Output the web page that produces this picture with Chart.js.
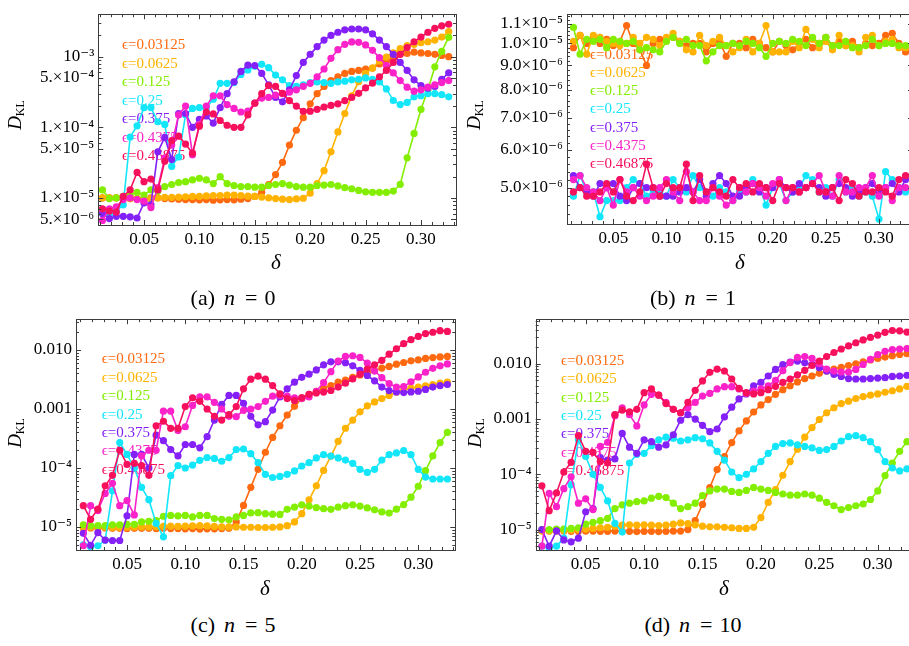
<!DOCTYPE html>
<html>
<head>
<meta charset="utf-8">
<script src="https://cdn.jsdelivr.net/npm/chart.js@4.4.1/dist/chart.umd.min.js"></script>
<style>
  body { margin: 0; width: 909px; height: 646px; overflow: hidden; background: #fff; position: relative;
         font-family: "Liberation Serif", "DejaVu Serif", serif; }
  canvas { position: absolute; }
  .lbl { position: absolute; white-space: nowrap; color: #000; transform: translate(-50%, -50%); }
  .cap { font-size: 22px; }
  .cap i { margin: 0 10px 0 9px; }
  .cap span { margin-left: 7px; }
  .dx { font-size: 21px; font-style: italic; }
  .dy { font-size: 19px; transform: translate(-50%, -50%) rotate(-90deg); }
  .dy sub { font-size: 12px; font-style: normal; vertical-align: -3px; }
</style>
</head>
<body>
<canvas id="cA" width="460" height="250" style="left:0;top:0"></canvas>
<canvas id="cB" width="460" height="250" style="left:460px;top:0"></canvas>
<canvas id="cC" width="460" height="270" style="left:0;top:305px"></canvas>
<canvas id="cD" width="460" height="270" style="left:460px;top:305px"></canvas>

<div class="lbl dy" style="left:16px;top:115px"><i>D</i><sub>KL</sub></div>
<div class="lbl dy" style="left:475px;top:115px"><i>D</i><sub>KL</sub></div>
<div class="lbl dy" style="left:16px;top:433px"><i>D</i><sub>KL</sub></div>
<div class="lbl dy" style="left:476px;top:433px"><i>D</i><sub>KL</sub></div>

<div class="lbl dx" style="left:276px;top:262px">δ</div>
<div class="lbl dx" style="left:740px;top:262px">δ</div>
<div class="lbl dx" style="left:265px;top:588px">δ</div>
<div class="lbl dx" style="left:724px;top:588px">δ</div>

<div class="lbl cap" style="left:233px;top:298px">(a)<i>n</i>=<span>0</span></div>
<div class="lbl cap" style="left:693px;top:298px">(b)<i>n</i>=<span>1</span></div>
<div class="lbl cap" style="left:233px;top:625px">(c)<i>n</i>=<span>5</span></div>
<div class="lbl cap" style="left:693px;top:625px">(d)<i>n</i>=<span>10</span></div>

<script>
// delta grid
const delta = [0.0125, 0.01875, 0.025, 0.03125, 0.0375, 0.04375, 0.05, 0.05625, 0.0625, 0.06875,
  0.075, 0.08125, 0.0875, 0.09375, 0.1, 0.10625, 0.1125, 0.11875, 0.125, 0.13125,
  0.1375, 0.14375, 0.15, 0.15625, 0.1625, 0.16875, 0.175, 0.18125, 0.1875, 0.19375,
  0.2, 0.20625, 0.2125, 0.21875, 0.225, 0.23125, 0.2375, 0.24375, 0.25, 0.25625,
  0.2625, 0.26875, 0.275, 0.28125, 0.2875, 0.29375, 0.3, 0.30625, 0.3125, 0.31875, 0.325];

const eps = ['0.03125', '0.0625', '0.125', '0.25', '0.375', '0.4375', '0.46875'];
const colors = ['#ff6a10', '#ffb300', '#84ee00', '#14e6fa', '#8420f8', '#fa22c8', '#f7105c'];

// (a) n = 0
const n0_e1 = [1.0e-5,1.0e-5,1.0e-5,1.0e-5,9.8e-6,9.8e-6,9.7e-6,1.0e-5,1.0e-5,9.8e-6,
  9.7e-6,9.6e-6,9.5e-6,9.5e-6,9.4e-6,9.5e-6,9.3e-6,9.4e-6,9.5e-6,9.4e-6,
  9.6e-6,9.8e-6,1.05e-5,1.2e-5,1.55e-5,2.14e-5,3.2e-5,5.6e-5,9.1e-5,1.37e-4,
  2.15e-4,3.0e-4,3.8e-4,4.6e-4,5.2e-4,5.8e-4,6.2e-4,6.4e-4,6.7e-4,6.9e-4,
  7.9e-4,8.7e-4,9.7e-4,1.08e-3,1.11e-3,1.16e-3,1.13e-3,1.11e-3,1.08e-3,1.04e-3,1.0e-3];
const n0_e2 = [1.0e-5,1.0e-5,1.0e-5,9.8e-6,9.8e-6,9.8e-6,9.7e-6,9.7e-6,1.0e-5,1.02e-5,
  1.02e-5,1.03e-5,1.04e-5,1.05e-5,1.05e-5,1.07e-5,1.08e-5,1.08e-5,1.1e-5,1.1e-5,
  1.08e-5,1.06e-5,1.05e-5,1.03e-5,1.0e-5,9.8e-6,9.6e-6,9.5e-6,9.7e-6,9.9e-6,
  1.17e-5,1.6e-5,2.43e-5,4.5e-5,8.6e-5,1.57e-4,2.79e-4,4.45e-4,5.8e-4,6.9e-4,
  8.7e-4,9.9e-4,1.13e-3,1.3e-3,1.44e-3,1.5e-3,1.58e-3,1.63e-3,1.72e-3,1.9e-3,2.27e-3];
const n0_e3 = [1.3e-5,9.8e-6,1.0e-5,1.05e-5,1.1e-5,1.2e-5,1.1e-5,1.3e-5,1.25e-5,1.45e-5,
  1.55e-5,1.65e-5,1.7e-5,1.8e-5,1.9e-5,1.8e-5,1.6e-5,2.0e-5,1.6e-5,1.5e-5,
  1.45e-5,1.45e-5,1.42e-5,1.42e-5,1.5e-5,1.55e-5,1.6e-5,1.52e-5,1.45e-5,1.42e-5,
  1.42e-5,1.5e-5,1.52e-5,1.55e-5,1.48e-5,1.4e-5,1.35e-5,1.28e-5,1.22e-5,1.2e-5,
  1.2e-5,1.2e-5,1.25e-5,1.56e-5,3.7e-5,8.2e-5,1.8e-4,3.4e-4,7.2e-4,1.19e-3,1.88e-3];
const n0_e4 = [6.0e-6,5.8e-6,6.5e-6,8.0e-6,7.3e-5,1.05e-4,1.9e-4,1.9e-4,1.2e-4,1.1e-4,
  2.8e-5,3.8e-5,1.5e-4,1.85e-4,1.9e-4,1.9e-4,2.5e-4,4.2e-4,4.2e-4,4.3e-4,
  5.6e-4,6.5e-4,7.3e-4,7.8e-4,7.0e-4,5.5e-4,4.7e-4,3.9e-4,3.8e-4,4.0e-4,
  4.3e-4,4.4e-4,4.3e-4,4.2e-4,4.4e-4,4.5e-4,4.7e-4,4.8e-4,5.0e-4,4.8e-4,
  4.4e-4,3.5e-4,2.4e-4,2.1e-4,2.25e-4,2.7e-4,2.8e-4,3.0e-4,3.0e-4,2.9e-4,2.7e-4];
const n0_e5 = [6.0e-6,5.1e-6,5.5e-6,5.5e-6,5.4e-6,5.2e-6,8.5e-6,8.0e-6,4.5e-5,7.2e-5,
  3.5e-5,1.57e-4,1.57e-4,1.0e-4,1.3e-4,1.45e-4,1.15e-4,1.9e-4,3.0e-4,4.4e-4,
  6.2e-4,7.6e-4,7.5e-4,5.8e-4,4.0e-4,2.65e-4,2.3e-4,3.4e-4,5.4e-4,8.3e-4,
  1.08e-3,1.39e-3,1.72e-3,2.0e-3,2.22e-3,2.4e-3,2.47e-3,2.47e-3,2.4e-3,2.1e-3,
  1.72e-3,1.39e-3,1.08e-3,8.3e-4,6.4e-4,4.7e-4,3.9e-4,3.6e-4,3.8e-4,4.8e-4,5.9e-4];
const n0_e6 = [4.8e-6,7.0e-6,7.5e-6,9.5e-6,1.0e-5,9.5e-6,9.0e-6,7.3e-6,1.4e-5,3.7e-5,
  5.6e-5,1.5e-4,2.0e-4,4.1e-5,1.1e-4,2.0e-4,2.8e-4,2.8e-4,2.1e-4,1.85e-4,
  1.65e-4,1.7e-4,2.2e-4,2.6e-4,2.65e-4,2.85e-4,3.0e-4,3.15e-4,3.4e-4,3.8e-4,
  4.2e-4,5.2e-4,6.7e-4,9.5e-4,1.26e-3,1.5e-3,1.62e-3,1.6e-3,1.47e-3,1.23e-3,
  9.7e-4,7.5e-4,5.9e-4,4.6e-4,3.7e-4,3.25e-4,3.4e-4,3.7e-4,4.0e-4,4.3e-4,4.6e-4];
const n0_e7 = [7.0e-6,6.5e-6,6.3e-6,1.05e-5,1.3e-5,2.3e-5,1.7e-5,1.85e-5,1.3e-5,3.3e-5,
  6.5e-5,7.5e-5,5.8e-5,4.3e-5,1.04e-4,1.65e-4,1.55e-4,1.25e-4,1.07e-4,1.0e-4,
  1.0e-4,1.5e-4,2.2e-4,3.0e-4,3.9e-4,3.8e-4,3.03e-4,2.39e-4,2.0e-4,1.69e-4,
  1.69e-4,1.8e-4,1.94e-4,2.04e-4,2.15e-4,2.39e-4,2.65e-4,3.03e-4,3.62e-4,4.22e-4,
  5.2e-4,6.4e-4,8.3e-4,1.08e-3,1.35e-3,1.63e-3,1.9e-3,2.22e-3,2.52e-3,2.74e-3,2.88e-3];

// (b) n = 1
const n1_e1 = [9.8e-6,1.04e-5,1.0e-5,1.03e-5,1.0e-5,1.02e-5,9.9e-6,1.01e-5,1.09e-5,1.0e-5,
  9.7e-6,9.0e-6,1.0e-5,1.02e-5,1.02e-5,1.03e-5,1.01e-5,9.9e-6,1.0e-5,1.0e-5,
  9.6e-6,1.0e-5,1.01e-5,9.4e-6,1.0e-5,1.0e-5,9.8e-6,1.02e-5,1.0e-5,9.8e-6,
  9.6e-6,1.01e-5,9.9e-6,9.7e-6,1.0e-5,1.02e-5,9.8e-6,1.0e-5,1.03e-5,9.9e-6,
  1.01e-5,9.9e-6,1.01e-5,9.8e-6,1.0e-5,9.9e-6,1.0e-5,1.04e-5,1.05e-5,1.0e-5,9.6e-6];
const n1_e2 = [1.01e-5,1.04e-5,9.5e-6,1.04e-5,1.03e-5,1.01e-5,1.0e-5,9.9e-6,1.0e-5,1.03e-5,
  1.0e-5,1.03e-5,1.02e-5,9.9e-6,1.03e-5,1.05e-5,1.01e-5,9.7e-6,9.6e-6,1.04e-5,
  9.9e-6,1.01e-5,1.03e-5,9.9e-6,9.6e-6,9.8e-6,1.02e-5,9.6e-6,1.0e-5,1.09e-5,
  9.6e-6,9.6e-6,9.6e-6,1.01e-5,9.8e-6,1.07e-5,1.02e-5,9.8e-6,1.01e-5,9.7e-6,
  1.04e-5,9.9e-6,9.9e-6,9.6e-6,1.03e-5,1.04e-5,9.9e-6,1.01e-5,1.02e-5,9.8e-6,9.8e-6];
const n1_e3 = [1.08e-5,9.5e-6,1.02e-5,1.01e-5,1.02e-5,9.8e-6,1.02e-5,1.01e-5,1.0e-5,1.01e-5,
  9.7e-6,9.8e-6,9.7e-6,9.6e-6,1.01e-5,1.03e-5,1.0e-5,1.02e-5,9.9e-6,9.9e-6,
  9.2e-6,9.6e-6,9.9e-6,9.9e-6,1.0e-5,9.9e-6,1.01e-5,1.0e-5,9.8e-6,9.4e-6,
  1.0e-5,1.01e-5,1.0e-5,1.02e-5,1.01e-5,9.9e-6,1.03e-5,1.0e-5,1.03e-5,9.9e-6,
  9.9e-6,1.01e-5,9.8e-6,9.8e-6,9.9e-6,1.02e-5,9.9e-6,1.0e-5,1.0e-5,9.9e-6,9.9e-6];
const n1_e4 = [4.8e-6,5.3e-6,4.9e-6,4.9e-6,4.35e-6,4.7e-6,4.7e-6,4.7e-6,5.0e-6,5.2e-6,
  5.1e-6,4.8e-6,4.9e-6,4.9e-6,4.8e-6,5.2e-6,5.0e-6,4.9e-6,5.3e-6,5.0e-6,
  4.9e-6,4.8e-6,5.0e-6,4.9e-6,4.7e-6,4.9e-6,4.9e-6,5.2e-6,5.0e-6,4.6e-6,
  5.0e-6,5.1e-6,4.7e-6,4.9e-6,5.0e-6,5.3e-6,5.2e-6,4.9e-6,5.0e-6,4.8e-6,
  5.2e-6,4.9e-6,5.0e-6,4.8e-6,4.9e-6,4.8e-6,4.3e-6,5.4e-6,5.2e-6,5.0e-6,4.9e-6];
const n1_e5 = [5.3e-6,5.0e-6,4.9e-6,4.8e-6,5.1e-6,5.0e-6,5.1e-6,4.8e-6,4.7e-6,5.0e-6,
  5.1e-6,5.0e-6,5.0e-6,4.8e-6,4.8e-6,4.8e-6,4.9e-6,5.0e-6,4.9e-6,5.2e-6,
  4.8e-6,5.1e-6,5.3e-6,5.1e-6,4.8e-6,4.8e-6,5.0e-6,5.1e-6,4.9e-6,5.0e-6,
  5.0e-6,5.2e-6,5.0e-6,4.9e-6,5.1e-6,5.0e-6,5.1e-6,5.0e-6,4.8e-6,5.0e-6,
  5.1e-6,5.0e-6,4.8e-6,4.9e-6,5.0e-6,5.1e-6,4.9e-6,5.0e-6,5.1e-6,4.9e-6,5.2e-6];
const n1_e6 = [5.2e-6,5.3e-6,5.0e-6,4.9e-6,4.7e-6,5.0e-6,4.6e-6,5.2e-6,4.9e-6,5.0e-6,
  4.8e-6,4.7e-6,4.8e-6,5.0e-6,5.2e-6,4.9e-6,4.7e-6,5.4e-6,4.9e-6,4.7e-6,
  4.7e-6,5.0e-6,4.8e-6,4.6e-6,4.7e-6,5.0e-6,4.9e-6,5.1e-6,5.0e-6,4.8e-6,
  5.1e-6,5.2e-6,4.7e-6,5.0e-6,4.9e-6,5.0e-6,5.1e-6,5.3e-6,4.9e-6,4.8e-6,
  5.3e-6,4.9e-6,4.9e-6,5.0e-6,5.0e-6,5.3e-6,4.8e-6,5.0e-6,4.7e-6,5.0e-6,5.0e-6];
const n1_e7 = [4.9e-6,5.0e-6,4.8e-6,4.8e-6,4.9e-6,5.1e-6,4.9e-6,5.2e-6,4.8e-6,4.7e-6,
  4.9e-6,5.6e-6,5.0e-6,4.8e-6,5.1e-6,5.0e-6,5.0e-6,5.6e-6,4.7e-6,5.3e-6,
  4.9e-6,5.0e-6,4.9e-6,4.8e-6,5.2e-6,5.0e-6,5.1e-6,4.9e-6,5.1e-6,5.0e-6,
  4.7e-6,5.1e-6,5.0e-6,5.0e-6,4.9e-6,5.0e-6,5.1e-6,4.9e-6,4.9e-6,5.0e-6,
  4.7e-6,5.2e-6,5.1e-6,4.8e-6,4.9e-6,4.9e-6,5.0e-6,4.9e-6,4.8e-6,5.2e-6,5.3e-6];

// (c) n = 5
const n5_e1 = [9.6e-6,9.6e-6,9.5e-6,9.6e-6,9.5e-6,9.5e-6,9.4e-6,9.5e-6,9.5e-6,9.5e-6,
  9.4e-6,9.5e-6,9.4e-6,9.4e-6,9.3e-6,9.4e-6,9.2e-6,9.3e-6,9.3e-6,9.4e-6,
  9.5e-6,1.22e-5,2.32e-5,4.7e-5,9.5e-5,1.85e-4,3.3e-4,5.2e-4,7.9e-4,1.11e-3,
  1.5e-3,1.77e-3,2.0e-3,2.26e-3,2.5e-3,2.85e-3,3.1e-3,3.45e-3,3.77e-3,4.1e-3,
  4.45e-3,4.94e-3,5.27e-3,5.76e-3,6.14e-3,6.55e-3,6.8e-3,7.2e-3,7.45e-3,7.65e-3,7.8e-3];
const n5_e2 = [1.0e-5,1.0e-5,1.0e-5,1.0e-5,9.8e-6,9.8e-6,9.9e-6,1.0e-5,1.0e-5,1.0e-5,
  1.01e-5,1.02e-5,1.03e-5,1.02e-5,1.03e-5,1.04e-5,1.05e-5,1.04e-5,1.02e-5,1.0e-5,
  1.0e-5,1.0e-5,9.9e-6,9.9e-6,9.8e-6,9.8e-6,9.9e-6,1.0e-5,1.05e-5,1.22e-5,
  1.68e-5,2.89e-5,5.0e-5,9.1e-5,1.59e-4,2.83e-4,4.72e-4,6.5e-4,8.97e-4,1.13e-3,
  1.32e-3,1.5e-3,1.7e-3,1.94e-3,2.12e-3,2.26e-3,2.35e-3,2.47e-3,2.6e-3,2.74e-3,2.85e-3];
const n5_e3 = [1.09e-5,1.05e-5,1.05e-5,1.05e-5,1.09e-5,1.09e-5,1.11e-5,1.11e-5,1.22e-5,1.25e-5,
  1.28e-5,1.52e-5,1.57e-5,1.54e-5,1.57e-5,1.48e-5,1.57e-5,1.57e-5,1.39e-5,1.35e-5,
  1.32e-5,1.48e-5,1.57e-5,1.73e-5,1.75e-5,1.68e-5,1.65e-5,1.63e-5,1.99e-5,2.17e-5,
  2.38e-5,2.26e-5,2.12e-5,2.04e-5,1.99e-5,2.17e-5,2.3e-5,2.38e-5,2.26e-5,2.1e-5,
  1.95e-5,1.8e-5,1.72e-5,2.0e-5,2.4e-5,3.2e-5,4.9e-5,9.0e-5,1.6e-4,2.7e-4,4.0e-4];
const n5_e4 = [5.0e-6,4.6e-6,4.8e-6,6.0e-6,4.1e-5,2.7e-4,1.7e-4,1.0e-4,4.7e-5,2.9e-5,
  1.15e-5,6.8e-6,7.4e-5,1.1e-4,1.0e-4,1.12e-4,1.35e-4,1.5e-4,1.45e-4,1.3e-4,
  1.5e-4,2.05e-4,2.1e-4,1.75e-4,1.23e-4,7.8e-5,6.9e-5,7.2e-5,7.8e-5,8.9e-5,
  1.08e-4,1.23e-4,1.48e-4,1.68e-4,1.59e-4,1.48e-4,1.36e-4,1.2e-4,9.5e-5,8.4e-5,
  9.5e-5,1.36e-4,1.68e-4,1.8e-4,1.98e-4,1.68e-4,9.5e-5,7.0e-5,6.5e-5,6.5e-5,6.5e-5];
const n5_e5 = [7.8e-6,4.9e-6,8.0e-6,6.0e-6,5.9e-6,5.9e-6,1.55e-5,1.7e-4,1.7e-4,1.0e-4,
  3.6e-4,2.9e-4,2.05e-4,1.6e-4,2.5e-4,2.5e-4,2.2e-4,3.4e-4,6.5e-4,1.2e-3,
  1.7e-3,1.7e-3,1.25e-3,7.5e-4,5.4e-4,6.1e-4,9.6e-4,1.6e-3,2.2e-3,2.85e-3,
  3.45e-3,3.9e-3,4.6e-3,5.6e-3,6.3e-3,6.3e-3,6.1e-3,5.4e-3,4.5e-3,3.7e-3,
  3.0e-3,2.35e-3,2.05e-3,1.95e-3,1.9e-3,1.95e-3,2.0e-3,2.15e-3,2.35e-3,2.5e-3,2.6e-3];
const n5_e6 = [4.8e-6,2.3e-5,1.9e-5,3.7e-5,5.5e-5,2.3e-5,2.8e-5,1.6e-5,1.6e-4,2.0e-4,
  2.0e-4,9.2e-4,9.2e-4,4.3e-4,5.0e-4,1.15e-3,1.6e-3,1.6e-3,1.3e-3,1.0e-3,
  7.5e-4,7.4e-4,9.5e-4,1.0e-3,1.1e-3,1.35e-3,1.65e-3,1.7e-3,1.65e-3,1.55e-3,
  1.5e-3,1.6e-3,2.0e-3,2.8e-3,4.3e-3,6.5e-3,7.8e-3,8.0e-3,7.5e-3,6.0e-3,
  4.4e-3,3.4e-3,2.7e-3,2.35e-3,2.4e-3,2.9e-3,3.5e-3,4.2e-3,4.9e-3,5.4e-3,5.8e-3];
const n5_e7 = [2.3e-5,1.35e-5,2.0e-5,5.0e-5,7.5e-5,2.0e-4,1.15e-4,1.2e-4,1.1e-4,7.5e-5,
  5.2e-4,6.2e-4,4.7e-4,4.7e-4,1.1e-3,1.55e-3,1.35e-3,1.0e-3,7.5e-4,6.5e-4,
  8.0e-4,1.1e-3,2.2e-3,3.2e-3,3.6e-3,3.2e-3,2.5e-3,1.8e-3,1.5e-3,1.4e-3,
  1.56e-3,1.77e-3,1.87e-3,1.94e-3,2.06e-3,2.35e-3,2.74e-3,3.23e-3,3.9e-3,4.76e-3,
  5.6e-3,6.7e-3,8.5e-3,1.05e-2,1.28e-2,1.5e-2,1.7e-2,1.9e-2,2.0e-2,2.13e-2,2.07e-2];

// (d) n = 10
const n10_e1 = [9.5e-6,9.4e-6,9.4e-6,9.4e-6,9.3e-6,9.3e-6,9.4e-6,9.4e-6,9.3e-6,9.3e-6,
  9.4e-6,9.3e-6,9.3e-6,9.2e-6,9.3e-6,9.3e-6,9.2e-6,9.3e-6,9.4e-6,9.4e-6,
  1.0e-5,1.45e-5,2.85e-5,5.75e-5,1.22e-4,2.1e-4,3.75e-4,6.1e-4,9.25e-4,1.34e-3,
  1.8e-3,2.25e-3,2.8e-3,3.4e-3,4.0e-3,4.7e-3,5.4e-3,6.0e-3,6.7e-3,7.4e-3,
  8.0e-3,8.6e-3,9.3e-3,1.0e-2,1.08e-2,1.17e-2,1.25e-2,1.32e-2,1.4e-2,1.47e-2,1.52e-2];
const n10_e2 = [9.5e-6,9.5e-6,9.5e-6,9.7e-6,9.8e-6,1.0e-5,1.02e-5,1.05e-5,1.08e-5,1.1e-5,
  1.15e-5,1.2e-5,1.22e-5,1.2e-5,1.22e-5,1.2e-5,1.18e-5,1.2e-5,1.25e-5,1.32e-5,
  1.28e-5,1.22e-5,1.15e-5,1.12e-5,1.12e-5,1.1e-5,1.08e-5,1.05e-5,1.05e-5,1.1e-5,
  1.65e-5,3.1e-5,5.3e-5,9.6e-5,1.7e-4,2.85e-4,4.7e-4,7.0e-4,9.8e-4,1.3e-3,
  1.6e-3,1.9e-3,2.1e-3,2.35e-3,2.55e-3,2.7e-3,2.85e-3,3.05e-3,3.25e-3,3.5e-3,3.9e-3];
const n10_e3 = [1.0e-5,1.0e-5,1.02e-5,1.02e-5,1.05e-5,1.08e-5,1.25e-5,1.35e-5,1.45e-5,1.6e-5,
  2.4e-5,2.8e-5,3.0e-5,3.2e-5,3.3e-5,3.7e-5,4.0e-5,3.8e-5,3.0e-5,2.4e-5,
  2.6e-5,3.0e-5,4.1e-5,5.0e-5,5.4e-5,5.4e-5,4.9e-5,4.7e-5,5.1e-5,5.8e-5,
  5.4e-5,5.1e-5,4.7e-5,4.4e-5,4.2e-5,4.2e-5,4.4e-5,4.2e-5,3.7e-5,3.1e-5,
  2.7e-5,2.3e-5,2.5e-5,2.7e-5,2.9e-5,3.5e-5,5.0e-5,9.5e-5,1.6e-4,2.6e-4,3.9e-4];
const n10_e4 = [5.0e-6,4.6e-6,5.0e-6,7.0e-6,6.5e-5,4.2e-4,2.1e-4,1.0e-4,5.8e-5,3.3e-5,
  1.3e-5,9.0e-6,1.6e-4,2.3e-4,2.4e-4,3.3e-4,4.2e-4,4.7e-4,4.5e-4,4.0e-4,
  4.2e-4,4.6e-4,4.4e-4,3.7e-4,2.6e-4,1.8e-4,1.1e-4,8.7e-5,1.0e-4,1.25e-4,
  1.7e-4,2.4e-4,3.2e-4,3.6e-4,3.7e-4,3.4e-4,3.2e-4,3.0e-4,2.7e-4,2.8e-4,
  3.2e-4,4.0e-4,4.8e-4,5.0e-4,4.6e-4,3.9e-4,2.8e-4,1.7e-4,1.3e-4,1.15e-4,1.25e-4];
const n10_e5 = [1.0e-5,5.0e-6,9.5e-6,6.5e-6,6.0e-6,7.0e-6,2.1e-5,2.4e-5,2.0e-4,1.8e-4,
  1.9e-4,5.5e-4,3.1e-4,2.4e-4,4.2e-4,3.9e-4,3.1e-4,3.4e-4,5.2e-4,9.5e-4,
  1.2e-3,1.0e-3,7.7e-4,5.9e-4,6.6e-4,1.09e-3,1.64e-3,2.31e-3,2.84e-3,4.0e-3,
  4.6e-3,6.0e-3,7.9e-3,9.7e-3,1.07e-2,1.12e-2,1.04e-2,9.7e-3,8.5e-3,7.4e-3,
  6.45e-3,5.9e-3,5.4e-3,5.3e-3,5.3e-3,5.4e-3,5.5e-3,5.6e-3,5.9e-3,6.0e-3,6.2e-3];
const n10_e6 = [5.0e-6,4.5e-5,2.6e-5,5.5e-5,9.0e-5,3.0e-5,3.6e-5,2.3e-5,3.2e-4,3.8e-4,
  1.15e-3,1.6e-3,1.2e-3,7.5e-4,1.8e-3,2.8e-3,2.7e-3,2.0e-3,1.5e-3,1.3e-3,
  1.6e-3,2.0e-3,2.6e-3,2.9e-3,3.5e-3,3.85e-3,3.85e-3,3.5e-3,2.9e-3,3.2e-3,
  3.5e-3,4.0e-3,5.0e-3,7.5e-3,1.05e-2,1.3e-2,1.35e-2,1.25e-2,1.0e-2,8.0e-3,
  7.4e-3,7.1e-3,7.1e-3,7.9e-3,9.7e-3,1.2e-2,1.47e-2,1.68e-2,1.8e-2,1.85e-2,1.88e-2];
const n10_e7 = [6.2e-5,2.2e-5,4.6e-5,1.1e-4,1.65e-4,5.0e-4,2.6e-4,2.5e-4,1.7e-4,1.6e-4,
  1.2e-3,1.45e-3,1.35e-3,1.5e-3,3.0e-3,3.5e-3,2.7e-3,1.9e-3,1.5e-3,1.3e-3,
  2.0e-3,3.3e-3,4.9e-3,7.0e-3,8.0e-3,7.4e-3,5.3e-3,3.6e-3,3.0e-3,2.85e-3,
  3.0e-3,3.4e-3,3.9e-3,4.6e-3,5.3e-3,6.3e-3,7.6e-3,9.3e-3,1.12e-2,1.35e-2,
  1.6e-2,1.85e-2,2.1e-2,2.4e-2,2.7e-2,3.0e-2,3.3e-2,3.7e-2,4.0e-2,3.95e-2,3.75e-2];

// tick labels
const xTicks = [0.05, 0.10, 0.15, 0.20, 0.25, 0.30];
const yTicksA = [5e-6, 1e-5, 5e-5, 1e-4, 5e-4, 1e-3];
const yLabelsA = ['5.×10⁻⁶', '1.×10⁻⁵', '5.×10⁻⁵', '1.×10⁻⁴', '5.×10⁻⁴', '10⁻³'];
const yTicksB = [5e-6, 6e-6, 7e-6, 8e-6, 9e-6, 1e-5, 1.1e-5];
const yLabelsB = ['5.0×10⁻⁶', '6.0×10⁻⁶', '7.0×10⁻⁶', '8.0×10⁻⁶', '9.0×10⁻⁶', '1.0×10⁻⁵', '1.1×10⁻⁵'];
const yTicksCD = [1e-5, 1e-4, 1e-3, 1e-2];
const yLabelsCD = ['10⁻⁵', '10⁻⁴', '0.001', '0.010'];

// minor/major tick marks for the frame
function logMarks(lo, hi, majors) {
  const out = [];
  for (let e = -7; e <= -1; e++) {
    for (let m = 1; m <= 9; m++) {
      const v = m * Math.pow(10, e);
      if (v >= lo && v <= hi) out.push({ v, major: majors.includes(m) });
    }
  }
  return out;
}
function linMarks(lo, hi) {
  const out = [];
  for (let k = 20; k <= 60; k++) {
    const v = k * 2e-7;
    if (v >= lo && v <= hi) out.push({ v, major: k % 5 === 0 });
  }
  return out;
}

const frameTicks = {
  id: 'frameTicks',
  beforeDatasetsDraw(chart) {
    const o = chart.options.plugins.frameTicks;
    const { ctx, chartArea: a } = chart;
    ctx.save();
    ctx.font = '15px "Liberation Serif", "DejaVu Serif", serif';
    ctx.textBaseline = 'middle';
    chart.data.datasets.forEach((ds, k) => {
      ctx.fillStyle = ds.borderColor;
      ctx.fillText(ds.label, a.left + o.lx, a.top + o.ly + k * o.ls);
    });
    ctx.restore();
  },
  afterDatasetsDraw(chart) {
    const o = chart.options.plugins.frameTicks;
    const { ctx, chartArea: a, scales: { x, y } } = chart;
    ctx.save();
    ctx.strokeStyle = '#3c3c3c';
    ctx.lineWidth = 1;
    ctx.strokeRect(Math.round(a.left) + 0.5, Math.round(a.top) + 0.5,
      Math.round(a.right - a.left), Math.round(a.bottom - a.top));
    ctx.beginPath();
    for (let k = 1; k <= 34; k++) {
      const v = k / 100;
      if (v <= x.min || v >= x.max) continue;
      const px = Math.round(x.getPixelForValue(v)) + 0.5;
      const len = k % 5 === 0 ? 5 : 3;
      ctx.moveTo(px, a.bottom); ctx.lineTo(px, a.bottom - len);
      ctx.moveTo(px, a.top); ctx.lineTo(px, a.top + len);
    }
    o.marks.forEach(t => {
      const py = Math.round(y.getPixelForValue(t.v)) + 0.5;
      const len = t.major ? 5 : 3;
      ctx.moveTo(a.left, py); ctx.lineTo(a.left + len, py);
      ctx.moveTo(a.right, py); ctx.lineTo(a.right - len, py);
    });
    ctx.stroke();
    ctx.restore();
  }
};

function makePanel(id, series, g) {
  const font = { family: '"Liberation Serif", "DejaVu Serif", serif', size: 17 };
  new Chart(document.getElementById(id), {
    type: 'line',
    data: {
      datasets: series.map((vals, k) => ({
        label: 'ϵ=' + eps[k],
        data: delta.map((d, i) => ({ x: d, y: vals[i] })),
        borderColor: colors[k],
        backgroundColor: colors[k],
        pointBackgroundColor: colors[k],
        pointBorderWidth: 0,
        pointRadius: 3.6,
        pointHoverRadius: 3.6,
        borderWidth: 1.6,
        tension: 0,
        fill: false,
        clip: 0,
        order: 6 - k
      }))
    },
    options: {
      responsive: false,
      animation: false,
      events: [],
      layout: { padding: { left: 0, top: g.pt, right: g.pr, bottom: 0 } },
      scales: {
        x: {
          type: 'linear', min: g.xmin, max: g.xmax,
          grid: { display: false, drawTicks: false }, border: { display: false },
          afterFit: s => { s.height = g.xh; },
          afterBuildTicks: s => { s.ticks = xTicks.map(v => ({ value: v })); },
          ticks: { autoSkip: false, maxRotation: 0, padding: 4, color: '#000', font,
                   callback: v => v.toFixed(2) }
        },
        y: {
          type: 'logarithmic', min: g.ymin, max: g.ymax,
          grid: { display: false, drawTicks: false }, border: { display: false },
          afterFit: s => { s.width = g.yw; },
          afterBuildTicks: s => { s.ticks = g.yt.map(v => ({ value: v })); },
          ticks: { autoSkip: false, padding: 4, color: '#000', font,
                   callback: (v, i) => g.yl[i] }
        }
      },
      plugins: {
        legend: { display: false },
        tooltip: { enabled: false },
        frameTicks: { lx: g.lx, ly: g.ly, ls: g.ls, marks: g.marks }
      }
    },
    plugins: [frameTicks]
  });
}

makePanel('cA', [n0_e1, n0_e2, n0_e3, n0_e4, n0_e5, n0_e6, n0_e7], {
  pt: 4.7, pr: 4, xh: 25, yw: 98.3, xmin: 0.00875, xmax: 0.3316, ymin: 4.14e-6, ymax: 4.0e-3,
  yt: yTicksA, yl: yLabelsA, lx: 23.7, ly: 31.3, ls: 18.45, marks: logMarks(4.14e-6, 4.0e-3, [1, 5])
});
makePanel('cB', [n1_e1, n1_e2, n1_e3, n1_e4, n1_e5, n1_e6, n1_e7], {
  pt: 9.3, pr: 7, xh: 26, yw: 107, xmin: 0.00644, xmax: 0.332, ymin: 4.23e-6, ymax: 1.151e-5,
  yt: yTicksB, yl: yLabelsB, lx: 23, ly: 40.7, ls: 18.2, marks: linMarks(4.23e-6, 1.151e-5)
});
makePanel('cC', [n5_e1, n5_e2, n5_e3, n5_e4, n5_e5, n5_e6, n5_e7], {
  pt: 10.7, pr: 4.7, xh: 25, yw: 76, xmin: 0.0062, xmax: 0.3318, ymin: 4.07e-6, ymax: 3.33e-2,
  yt: yTicksCD, yl: yLabelsCD, lx: 25.7, ly: 40.3, ls: 18.4, marks: logMarks(4.07e-6, 3.33e-2, [1])
});
makePanel('cD', [n10_e1, n10_e2, n10_e3, n10_e4, n10_e5, n10_e6, n10_e7], {
  pt: 10.7, pr: 5, xh: 25, yw: 75.7, xmin: 0.00719, xmax: 0.3319, ymin: 4.27e-6, ymax: 6.4e-2,
  yt: yTicksCD, yl: yLabelsCD, lx: 25.3, ly: 41.6, ls: 18.4, marks: logMarks(4.27e-6, 6.4e-2, [1])
});
</script>
</body>
</html>
